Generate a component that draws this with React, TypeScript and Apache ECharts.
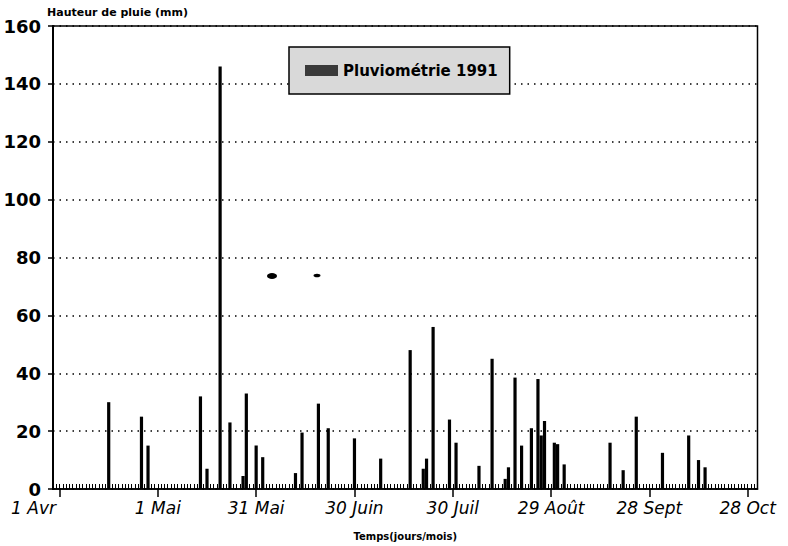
import React, { useEffect, useRef } from "react";
import * as echarts from "echarts";

// Tick positions (days since 1 April 1991) and their labels
const xTickDays = [0, 30, 60, 90, 120, 150, 180, 210];
const xTickLabels = ["1 Avr", "1 Mai", "31 Mai", "30 Juin", "30 Juil", "29 Août", "28 Sept", "28 Oct"];

// Rain events: day index (0 = 1 Avr) and rainfall in mm
const rainDays = [15, 25, 27, 43, 45, 49, 52, 56, 57, 60, 62, 72, 74, 79, 82, 90, 98, 107, 111, 112, 114, 119, 121, 128, 132, 136, 137, 139, 141, 144, 146, 147, 148, 151, 152, 154, 168, 172, 176, 184, 192, 195, 197];
const rainMm = [30, 25, 15, 32, 7, 146, 23, 4.5, 33, 15, 11, 5.5, 19.5, 29.5, 21, 17.5, 10.5, 48, 7, 10.5, 56, 24, 16, 8, 45, 3.5, 7.5, 38.5, 15, 21, 38, 18.5, 23.5, 16, 15.5, 8.5, 16, 6.5, 25, 12.5, 18.5, 10, 7.5];

const FONT = "DejaVu Sans";

export default function App() {
  const ref = useRef<HTMLDivElement>(null);
  useEffect(() => {
    if (!ref.current) return;
    const chart = echarts.init(ref.current, undefined, { renderer: "svg" });
    const data = rainDays.map((d, i) => [d, rainMm[i]]);
    chart.setOption({
      animation: false,
      backgroundColor: "#fff",
      grid: {
        left: 53,
        right: 30.5,
        top: 26,
        bottom: 52,
        show: true,
        borderColor: "#000",
        borderWidth: 1.5,
        backgroundColor: "transparent",
      },
      legend: {
        left: 289,
        top: 47,
        padding: [16, 12, 16, 16],
        itemWidth: 33,
        itemHeight: 11,
        icon: "rect",
        backgroundColor: "#d9d9d9",
        borderColor: "#000",
        borderWidth: 1.5,
        borderRadius: 0,
        itemStyle: { color: "#3a3a3a" },
        textStyle: { fontFamily: FONT, fontWeight: "bold", fontSize: 15, color: "#000" },
      },
      xAxis: [
        {
          type: "value",
          min: -2,
          max: 213,
          name: "Temps(jours/mois)",
          nameLocation: "middle",
          nameGap: 42,
          nameTextStyle: { fontFamily: FONT, fontWeight: "bold", fontSize: 10, color: "#000" },
          axisLine: { show: true, onZero: false, lineStyle: { color: "#000", width: 1.5 } },
          axisTick: { show: true, customValues: xTickDays, length: 8, lineStyle: { color: "#000", width: 1.5 } },
          axisLabel: {
            customValues: xTickDays,
            margin: 10,
            fontFamily: FONT,
            fontStyle: "oblique",
            fontSize: 17,
            color: "#000",
            formatter: (v: number) => {
              const i = xTickDays.indexOf(Math.round(v));
              if (i < 0) return "";
              return i === 0 ? "{first|" + xTickLabels[i] + "}" : xTickLabels[i];
            },
            rich: {
              first: {
                fontFamily: FONT,
                fontStyle: "oblique",
                fontSize: 17,
                color: "#000",
                padding: [0, 52, 0, 0],
              },
            },
          },
          splitLine: { show: false },
        },
        {
          type: "value",
          min: -2,
          max: 213,
          interval: 1,
          position: "bottom",
          axisLine: { show: false, onZero: false },
          axisTick: { show: true, inside: true, length: 5, lineStyle: { color: "#000", width: 1 } },
          axisLabel: { show: false },
          splitLine: { show: false },
        },
      ],
      yAxis: {
        type: "value",
        min: 0,
        max: 160,
        interval: 20,
        name: "Hauteur de pluie (mm)",
        nameLocation: "end",
        nameGap: 8,
        nameTextStyle: { fontFamily: FONT, fontWeight: "bold", fontSize: 11, color: "#000", align: "left", padding: [0, 0, 0, -6] },
        axisLine: { show: true, onZero: false, lineStyle: { color: "#000", width: 2 } },
        axisTick: { show: true, length: 5, lineStyle: { color: "#000", width: 1.5 } },
        axisLabel: { fontFamily: FONT, fontWeight: "bold", fontSize: 18, color: "#000", margin: 12 },
        splitLine: { show: true, lineStyle: { color: "#000", type: [1.5, 5], width: 1.5 } },
      },
      series: [
        {
          name: "Pluviométrie 1991",
          type: "bar",
          xAxisIndex: 0,
          barWidth: 3.2,
          itemStyle: { color: "#000" },
          data,
        },
      ],
      graphic: [
        { type: "ellipse", shape: { cx: 272, cy: 276, rx: 5, ry: 3 }, style: { fill: "#000" } },
        { type: "ellipse", shape: { cx: 317, cy: 275.5, rx: 3.5, ry: 1.8 }, style: { fill: "#000" } },
      ],
    });
    return () => chart.dispose();
  }, []);
  return <div ref={ref} style={{ width: 788, height: 546, position: "absolute", left: 0, top: 0 }} />;
}
